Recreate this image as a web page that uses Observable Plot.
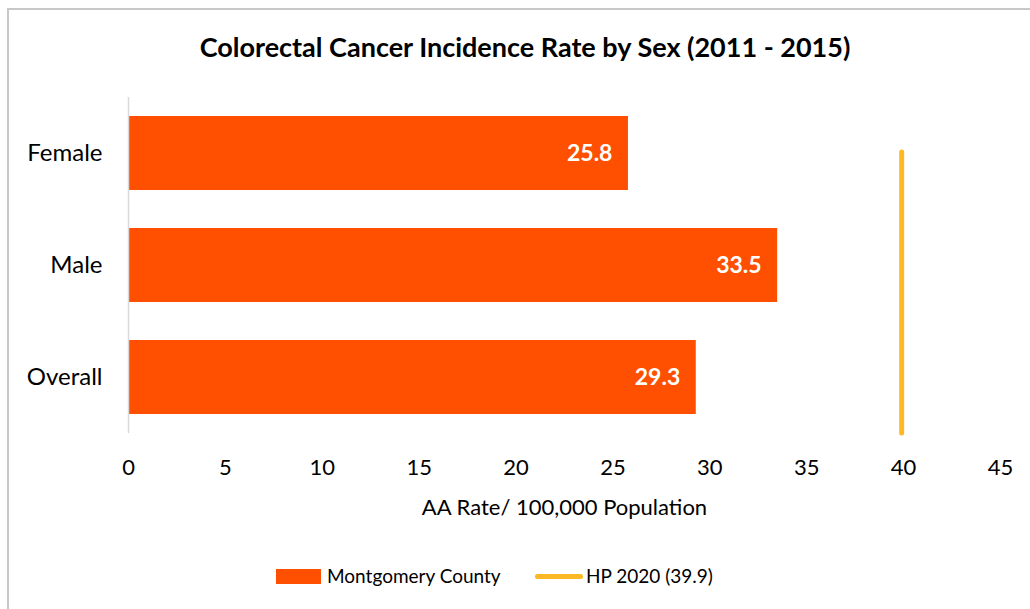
<!DOCTYPE html>
<html>
<head>
<meta charset="utf-8">
<script src="https://cdn.jsdelivr.net/npm/d3@7"></script>
<script src="https://cdn.jsdelivr.net/npm/@observablehq/plot@0.6"></script>
<style>
  html, body { margin: 0; padding: 0; background: #fff; }
  body { width: 1030px; height: 609px; position: relative; overflow: hidden; font-family: Lato, "Open Sans", sans-serif; }
  #frame { position: absolute; left: 7px; top: 8px; width: 1040px; height: 620px; border: 2px solid #c8c8c8; box-sizing: border-box; }
  #title { position: absolute; left: 0; width: 1050px; top: 30px; text-align: center; font-weight: bold; font-size: 27px; color: #000; }
  #chart { position: absolute; left: 0; top: 90px; }
  #legend { position: absolute; top: 562px; left: 0; width: 1030px; height: 28px; font-size: 19px; color: #000; }
  .sw { position: absolute; }
  .lt { position: absolute; top: 0; line-height: 28px; white-space: nowrap; }
</style>
</head>
<body>
<div id="frame"></div>
<div id="title">Colorectal Cancer Incidence Rate by Sex (2011 - 2015)</div>
<div id="chart"></div>
<div id="legend">
  <div class="sw" style="left:276px;top:7px;width:45px;height:15px;background:#FE5000"></div>
  <div class="lt" style="left:327px">Montgomery County</div>
  <div class="sw" style="left:535px;top:12px;width:48px;height:5px;border-radius:3px;background:#FDB924"></div>
  <div class="lt" style="left:586px">HP 2020 (39.9)</div>
</div>
<script>
const categories = ["Female", "Male", "Overall"];
const rates = [25.8, 33.5, 29.3];
const hpTarget = 39.9;
const xTicks = [0, 5, 10, 15, 20, 25, 30, 35, 40, 45];
const axisTitle = "AA Rate/ 100,000 Population";

const data = categories.map((c, i) => ({ sex: c, rate: rates[i] }));

const chart = Plot.plot({
  width: 1030,
  height: 440,
  marginLeft: 128,
  marginRight: 30,
  marginTop: 7,
  marginBottom: 97,
  style: { fontFamily: "Lato, 'Open Sans', sans-serif", fontSize: "20px", color: "#000", background: "transparent" },
  x: { domain: [0, 45], ticks: xTicks },
  y: { domain: categories, paddingInner: 0.34, paddingOuter: 0.17 },
  marks: [
    Plot.axisY({ tickSize: 0, tickPadding: 26, fontSize: 24, label: null }),
    Plot.axisX({ ticks: xTicks, tickSize: 0, tickPadding: 26, fontSize: 22, label: null }),
    Plot.axisX({ ticks: [], tickSize: 0, fontSize: 22, label: axisTitle, labelAnchor: "center", labelArrow: "none", labelOffset: 81 }),
    Plot.barX(data, { x: "rate", y: "sex", fill: "#FE5000" }),
    Plot.ruleX([0], { stroke: "#d9d9d9", strokeWidth: 1.5 }),
    Plot.text(data, { x: "rate", y: "sex", text: d => d.rate.toFixed(1), textAnchor: "end", dx: -16, fill: "#fff", fontWeight: "bold", fontSize: 23 }),
    Plot.ruleX([hpTarget], { stroke: "#FDB924", strokeWidth: 5, strokeLinecap: "round", insetTop: 55, insetBottom: 0 })
  ]
});
document.getElementById("chart").appendChild(chart);
</script>
</body>
</html>
